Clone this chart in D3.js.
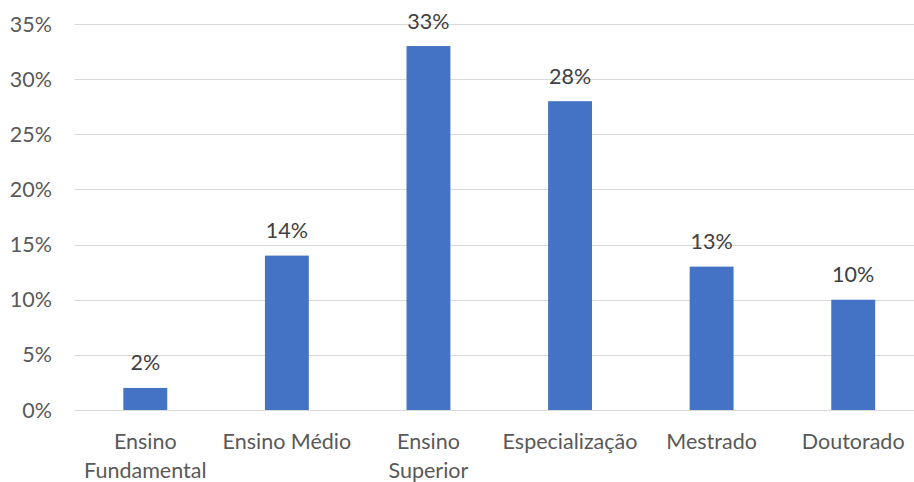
<!DOCTYPE html>
<html>
<head>
<meta charset="utf-8">
<script src="https://cdn.jsdelivr.net/npm/d3@7"></script>
<style>
  html, body { margin: 0; padding: 0; background: #fff; }
  svg { display: block; }
  text { font-family: Lato, "Open Sans", sans-serif; }
</style>
</head>
<body>
<svg id="chart" width="914" height="482"></svg>
<script>
// Escolaridade dos respondentes
const categories = [["Ensino", "Fundamental"], ["Ensino Médio"], ["Ensino", "Superior"], ["Especialização"], ["Mestrado"], ["Doutorado"]];
const values = [2, 14, 33, 28, 13, 10];
const yTicks = [0, 5, 10, 15, 20, 25, 30, 35];

const svg = d3.select("#chart");
const keys = categories.map(c => c.join(" "));
const fontSize = 21.5;

const x = d3.scaleBand()
  .domain(keys)
  .range([74.5, 924])
  .paddingInner(0.69)
  .paddingOuter(0.345);

const y = d3.scaleLinear().domain([0, 35]).range([410, 24]);

// Linhas de grade
svg.append("g")
  .selectAll("line")
  .data(yTicks)
  .join("line")
  .attr("x1", 74.5)
  .attr("x2", 924)
  .attr("y1", d => Math.round(y(d)) + 0.5)
  .attr("y2", d => Math.round(y(d)) + 0.5)
  .attr("stroke", "#d9d9d9")
  .attr("stroke-width", 1.2);

// Rótulos do eixo Y
svg.append("g")
  .selectAll("text")
  .data(yTicks)
  .join("text")
  .attr("x", 52)
  .attr("y", d => y(d))
  .attr("dy", "0.35em")
  .attr("text-anchor", "end")
  .attr("fill", "#595959")
  .attr("font-size", fontSize)
  .text(d => d + "%");

// Barras
svg.append("g")
  .selectAll("rect")
  .data(values)
  .join("rect")
  .attr("x", (d, i) => x(keys[i]))
  .attr("width", x.bandwidth())
  .attr("y", d => y(d))
  .attr("height", d => y(0) - y(d))
  .attr("fill", "#4472c4");

// Valores sobre as barras
svg.append("g")
  .selectAll("text")
  .data(values)
  .join("text")
  .attr("x", (d, i) => x(keys[i]) + x.bandwidth() / 2)
  .attr("y", d => y(d) - 25)
  .attr("dy", "0.35em")
  .attr("text-anchor", "middle")
  .attr("fill", "#404040")
  .attr("font-size", fontSize)
  .text(d => d + "%");

// Rótulos das categorias
const cat = svg.append("g")
  .selectAll("text")
  .data(categories)
  .join("text")
  .attr("x", (d, i) => x(keys[i]) + x.bandwidth() / 2)
  .attr("y", 441)
  .attr("text-anchor", "middle")
  .attr("fill", "#595959")
  .attr("font-size", fontSize);

cat.selectAll("tspan")
  .data(d => d)
  .join("tspan")
  .attr("x", function() { return d3.select(this.parentNode).attr("x"); })
  .attr("dy", (d, i) => i === 0 ? "0.35em" : 29)
  .text(d => d);
</script>
</body>
</html>
